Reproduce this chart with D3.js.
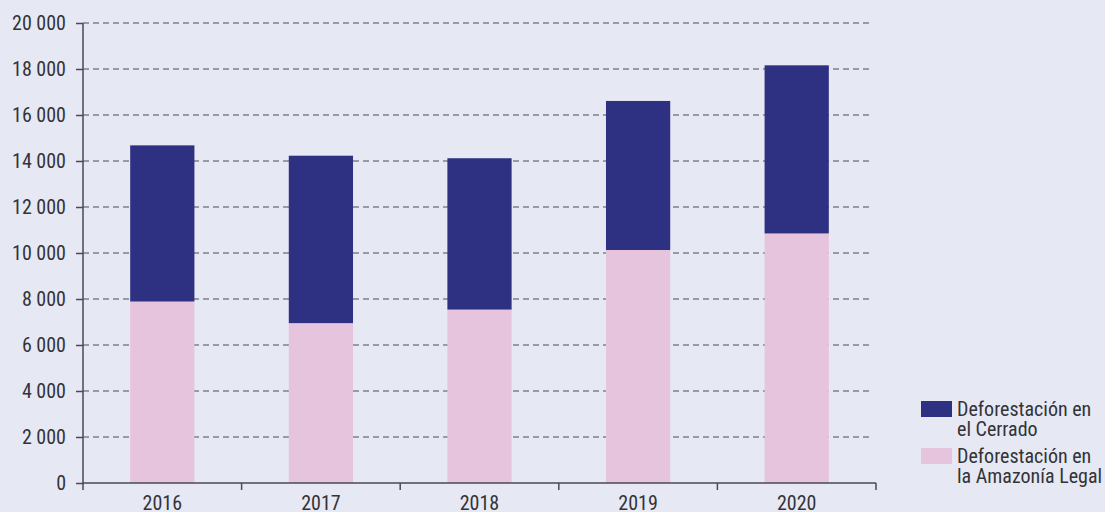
<!DOCTYPE html>
<html>
<head>
<meta charset="utf-8">
<script src="https://cdn.jsdelivr.net/npm/d3@7"></script>
<style>
  body { margin: 0; background: #e6e8f4; }
  svg { display: block; font-family: "Liberation Sans Narrow", "Roboto Condensed", "Liberation Sans", sans-serif; }
</style>
</head>
<body>
<div id="chart"></div>
<script>
var years = ["2016", "2017", "2018", "2019", "2020"];
var amazonia = [7890, 6950, 7540, 10130, 10850];
var cerrado = [6790, 7280, 6580, 6480, 7310];
var yTicks = [0, 2000, 4000, 6000, 8000, 10000, 12000, 14000, 16000, 18000, 20000];

var svgWidth = 1105;
var svgHeight = 512;
var margin = { top: 23, right: 229, bottom: 29, left: 83 };
var width = svgWidth - margin.left - margin.right;
var height = svgHeight - margin.top - margin.bottom;

var svg = d3.select("#chart")
  .append("svg")
  .attr("width", svgWidth)
  .attr("height", svgHeight);

svg.append("rect")
  .attr("width", svgWidth)
  .attr("height", svgHeight)
  .attr("fill", "#e6e8f4");

var chartGroup = svg.append("g")
  .attr("transform", `translate(${margin.left}, ${margin.top})`);

var data = years.map(function(y, i) {
  return { year: y, amazonia: amazonia[i], cerrado: cerrado[i] };
});

var xScale = d3.scaleBand()
  .domain(years)
  .range([0, 793])
  .paddingInner(0.595)
  .paddingOuter(0.2975);

var yScale = d3.scaleLinear()
  .domain([0, 20000])
  .range([height, 0]);

// gridlines
chartGroup.selectAll(".grid")
  .data(yTicks.filter(d => d > 0))
  .enter()
  .append("line")
  .attr("x1", 0)
  .attr("x2", 790)
  .attr("y1", d => yScale(d))
  .attr("y2", d => yScale(d))
  .attr("stroke", "#4d4d55")
  .attr("stroke-width", 1.2)
  .attr("stroke-dasharray", "6,4");

// stacked bars
var stack = d3.stack().keys(["amazonia", "cerrado"]);
var layers = stack(data);
var colors = { amazonia: "#e7c4de", cerrado: "#2e3181" };

chartGroup.selectAll(".layer")
  .data(layers)
  .enter()
  .append("g")
  .attr("fill", d => colors[d.key])
  .selectAll("rect")
  .data(d => d)
  .enter()
  .append("rect")
  .attr("x", d => xScale(d.data.year))
  .attr("width", xScale.bandwidth())
  .attr("y", d => yScale(d[1]))
  .attr("height", d => yScale(d[0]) - yScale(d[1]));

// y axis
var leftAxis = d3.axisLeft(yScale)
  .tickValues(yTicks)
  .tickSize(7)
  .tickPadding(10)
  .tickFormat(d => d3.format(",")(d).replace(/,/g, " "));

var yAxisG = chartGroup.append("g").call(leftAxis);
yAxisG.attr("font-family", null);
yAxisG.select(".domain").attr("stroke", "#4a4a50").attr("stroke-width", 1.5).attr("d", `M0,${height}V0`);
yAxisG.selectAll(".tick line").attr("stroke", "#4a4a50").attr("stroke-width", 1.5);
yAxisG.selectAll(".tick text")
  .attr("font-size", 20)
  .attr("fill", "#333338");

// x axis
var xAxisG = chartGroup.append("g")
  .attr("transform", `translate(0, ${height})`);
xAxisG.append("line")
  .attr("x1", 0).attr("x2", 793)
  .attr("stroke", "#4a4a50").attr("stroke-width", 1.5);
var boundaries = d3.range(years.length + 1).map(i => i * 793 / years.length);
xAxisG.selectAll(".xtick")
  .data(boundaries)
  .enter()
  .append("line")
  .attr("x1", d => d).attr("x2", d => d)
  .attr("y1", 0).attr("y2", 7)
  .attr("stroke", "#4a4a50").attr("stroke-width", 1.5);
xAxisG.selectAll(".xlabel")
  .data(years)
  .enter()
  .append("text")
  .attr("x", d => xScale(d) + xScale.bandwidth() / 2)
  .attr("y", 27)
  .attr("text-anchor", "middle")
  .attr("font-size", 20)
  .attr("fill", "#333338")
  .text(d => d);

// legend
var legendItems = [
  { color: colors.cerrado, lines: ["Deforestación en", "el Cerrado"], y: 401 },
  { color: colors.amazonia, lines: ["Deforestación en", "la Amazonía Legal"], y: 448 }
];
var legend = svg.append("g");
legendItems.forEach(function(item) {
  legend.append("rect")
    .attr("x", 921).attr("y", item.y)
    .attr("width", 31).attr("height", 16)
    .attr("fill", item.color);
  item.lines.forEach(function(line, j) {
    legend.append("text")
      .attr("x", 957)
      .attr("y", item.y + 15 + j * 20)
      .attr("font-size", 20)
      .attr("fill", "#333338")
      .text(line);
  });
});
</script>
</body>
</html>
